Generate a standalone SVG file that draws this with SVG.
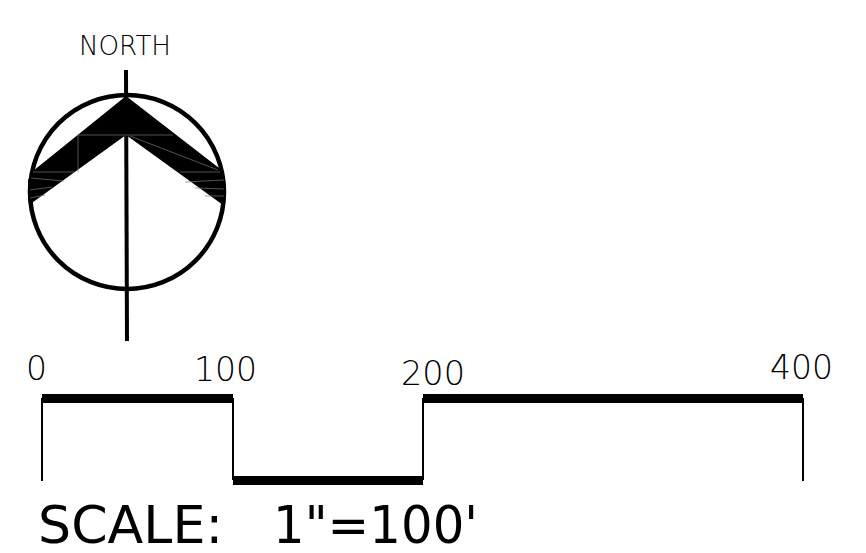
<svg xmlns="http://www.w3.org/2000/svg" width="866" height="553" viewBox="0 0 866 553">
<style>
text{font-family:"DejaVu Sans",sans-serif;fill:#000}
.l{font-size:33px;font-weight:200}
.s{font-size:52px}
.t{fill:none;stroke:#000;stroke-width:2}
.b{fill:#000}
.h{fill:none;stroke:#777;stroke-width:.7}
</style>
<rect width="866" height="553" fill="#fff"/>
<g id="north-arrow">
<text x="79" y="55" font-size="26" font-weight="200" textLength="92" lengthAdjust="spacingAndGlyphs">NORTH</text>
<circle cx="127" cy="192" r="97" fill="none" stroke="#000" stroke-width="4.5"/>
<path d="M126 70L127 341" fill="none" stroke="#000" stroke-width="4"/>
<path class="b" d="M126 96L219 168L225 183L223 205L126 135L29 205L28 180L33 171Z"/>
<path class="h" d="M78 135V172M33 172H75M78 135H173M130 136L218 170M180 172H220M31 178L64 181M30 190L52 187M30 198L45 195M185 182L224 180M195 188L224 189M205 196L224 196"/>
</g>
<g id="scale-bar">
<rect class="b" x="42" y="394" width="191" height="9"/>
<rect class="b" x="233" y="476" width="190" height="9"/>
<rect class="b" x="423" y="394" width="380" height="9"/>
<path class="t" d="M42 398V481M233 398V480M423 398V480M803 398V481"/>
</g>
<g id="labels">
<text class="l" x="26" y="380" textLength="21" lengthAdjust="spacingAndGlyphs">0</text>
<text class="l" x="194" y="381" textLength="63" lengthAdjust="spacingAndGlyphs">100</text>
<text class="l" x="401" y="385" textLength="64" lengthAdjust="spacingAndGlyphs">200</text>
<text class="l" x="770" y="379" textLength="63" lengthAdjust="spacingAndGlyphs">400</text>
<text class="s" x="38" y="543" textLength="185" lengthAdjust="spacingAndGlyphs">SCALE:</text>
<text class="s" x="273" y="543" textLength="205" lengthAdjust="spacingAndGlyphs">1"=100'</text>
</g>
</svg>
